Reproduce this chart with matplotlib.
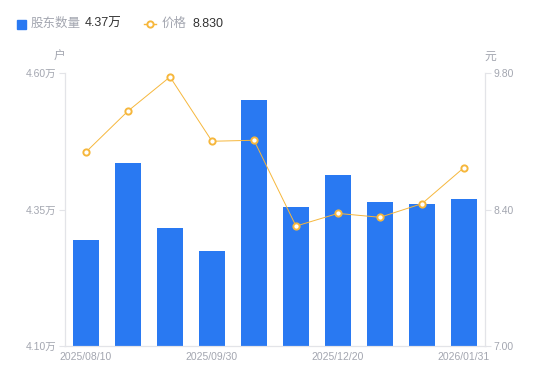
import matplotlib.pyplot as plt
from matplotlib.lines import Line2D

plt.rcParams['font.family'] = ['Liberation Sans', 'Noto Sans CJK SC', 'DejaVu Sans']

# data
x_labels = ["2025/08/10", "", "", "2025/09/30", "", "", "2025/12/20", "", "", "2026/01/31"]
holders = [4.294, 4.435, 4.316, 4.274, 4.551, 4.355, 4.413, 4.364, 4.360, 4.369]  # 万户
price = [8.99, 9.41, 9.76, 9.10, 9.11, 8.23, 8.36, 8.32, 8.46, 8.83]  # 元

holder_ticks = [4.10, 4.35, 4.60]
price_ticks = [7.00, 8.40, 9.80]

blue = "#2979f2"
orange = "#f6b73c"
grey = "#a3a6b0"
axis_c = "#e3e4e8"

fig = plt.figure(figsize=(5.5, 3.81), dpi=100)
ax = fig.add_axes([65 / 550, 35 / 381, 420 / 550, 273 / 381])
ax2 = ax.twinx()

xs = range(len(holders))
ax.bar(xs, holders, width=0.6, color=blue, zorder=2)
ax.set_xlim(-0.5, len(holders) - 0.5)
ax.set_ylim(holder_ticks[0], holder_ticks[-1])
ax.set_yticks(holder_ticks)
ax.set_yticklabels([f"{v:.2f}万" for v in holder_ticks])

ax2.plot(xs, price, color=orange, lw=0.7, marker="o", ms=4.5,
         mfc="white", mec=orange, mew=1.4, zorder=3)
ax2.set_ylim(price_ticks[0], price_ticks[-1])
ax2.set_yticks(price_ticks)
ax2.set_yticklabels([f"{v:.2f}" for v in price_ticks])

ax.set_xticks(list(xs))
ax.set_xticklabels(x_labels)
ax.tick_params(axis="x", length=0, pad=4, labelsize=7.5, colors=grey)
ax.tick_params(axis="y", length=4, width=0.8, color=axis_c, pad=2,
               labelsize=7.5, labelcolor=grey)
ax2.tick_params(axis="y", length=4, width=0.8, color=axis_c, pad=2,
                labelsize=7.5, labelcolor=grey)

for a in (ax, ax2):
    a.spines["top"].set_visible(False)
    for s in ("left", "right", "bottom"):
        a.spines[s].set_color(axis_c)
        a.spines[s].set_linewidth(0.8)

fig.text(60 / 550, 1 - 57 / 381, "户", fontsize=8.5, color=grey, ha="center", va="center")
fig.text(490 / 550, 1 - 57 / 381, "元", fontsize=8.5, color=grey, ha="center", va="center")

# legend
ly = 1 - 24 / 381
fig.patches.append(plt.Rectangle((17 / 550, 1 - 29 / 381), 9 / 550, 9 / 381,
                                 transform=fig.transFigure, color=blue))
fig.text(31 / 550, ly, "股东数量", fontsize=9, color=grey, va="center")
fig.text(85 / 550, ly, f"{holders[-1]:.2f}万", fontsize=9, color="#333333", va="center")
fig.lines.append(Line2D([144 / 550, 156 / 550], [ly, ly], transform=fig.transFigure,
                        color=orange, lw=1))
fig.lines.append(Line2D([150 / 550], [ly], transform=fig.transFigure, marker="o",
                        ms=4.5, mfc="white", mec=orange, mew=1.4, lw=0))
fig.text(162 / 550, ly, "价格", fontsize=9, color=grey, va="center")
fig.text(192 / 550, ly, f"{price[-1]:.3f}", fontsize=9, color="#333333", va="center")

fig.savefig("out.png", dpi=100)
